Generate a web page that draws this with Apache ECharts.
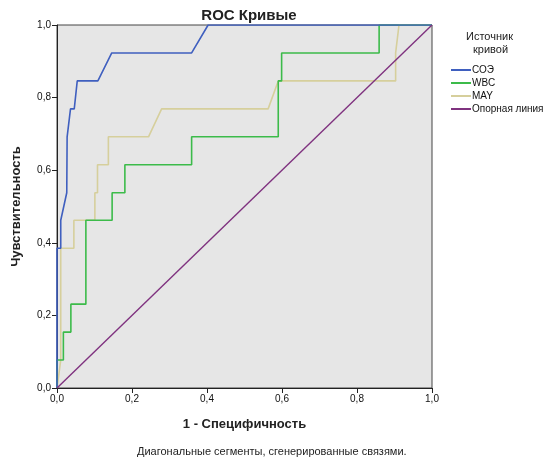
<!DOCTYPE html>
<html lang="ru">
<head>
    <meta charset="UTF-8">
    <title>ROC Кривые</title>
    <style type="text/css">
        body{
            margin: 0px;
            padding: 0px;
            background: #fff;
        }
        #chart{
            width: 547px;
            height: 468px;
        }
    </style>
</head>
<body>
<div id="chart"></div>
<script src="https://cdn.jsdelivr.net/npm/echarts@6/dist/echarts.min.js"></script>
<script type="text/javascript">
    // данные кривых (1 - специфичность / чувствительность)
    var soeX = [0, 0, 0.01, 0.01, 0.015, 0.026, 0.027, 0.036, 0.046, 0.054, 0.109, 0.146, 0.359, 0.403, 1];
    var soeY = [0, 0.385, 0.385, 0.462, 0.462, 0.538, 0.692, 0.769, 0.769, 0.846, 0.846, 0.923, 0.923, 1, 1];

    var wbcX = [0, 0, 0.017, 0.017, 0.037, 0.037, 0.077, 0.077, 0.147, 0.147, 0.181, 0.181, 0.359, 0.359, 0.59, 0.59, 0.599, 0.599, 0.859, 0.859, 1];
    var wbcY = [0, 0.077, 0.077, 0.154, 0.154, 0.231, 0.231, 0.462, 0.462, 0.538, 0.538, 0.615, 0.615, 0.692, 0.692, 0.846, 0.846, 0.923, 0.923, 1, 1];

    var mayX = [0, 0.01, 0.01, 0.045, 0.045, 0.101, 0.101, 0.108, 0.108, 0.137, 0.137, 0.244, 0.279, 0.563, 0.59, 0.903, 0.903, 0.912, 1];
    var mayY = [0, 0.077, 0.385, 0.385, 0.462, 0.462, 0.538, 0.538, 0.615, 0.615, 0.692, 0.692, 0.769, 0.769, 0.846, 0.846, 0.923, 1, 1];

    var refX = [0, 1];
    var refY = [0, 1];

    var ticks = [0, 0.2, 0.4, 0.6, 0.8, 1.0];

    function pairs(xs, ys) {
        var out = [];
        for (var i = 0; i < xs.length; i++) {
            out.push([xs[i], ys[i]]);
        }
        return out;
    }
    function fmt(v) {
        return v.toFixed(1).replace('.', ',');
    }

    var font = 'Liberation Sans';
    var myChart = echarts.init(document.getElementById('chart'));
    myChart.setOption({
        animation: false,
        textStyle: {fontFamily: font},
        title: {
            text: 'ROC Кривые',
            left: 244,
            top: 3,
            textAlign: 'center',
            textStyle: {fontSize: 15, fontWeight: 'bold', color: '#222', fontFamily: font}
        },
        graphic: [
            {type: 'text', left: 466, top: 31, style: {text: 'Источник', font: '11px "Liberation Sans"', fill: '#222'}},
            {type: 'text', left: 473, top: 44, style: {text: 'кривой', font: '11px "Liberation Sans"', fill: '#222'}},
            {type: 'text', left: 137, top: 446,
             style: {text: 'Диагональные сегменты, сгенерированные связями.', font: '11px "Liberation Sans"', fill: '#222'}}
        ],
        legend: {
            orient: 'vertical',
            left: 446,
            top: 60,
            itemWidth: 20,
            itemHeight: 2,
            itemGap: 3,
            icon: 'rect',
            textStyle: {fontSize: 10, color: '#111', fontFamily: font, padding: [0, 0, 0, -4]},
            data: ['СОЭ', 'WBC', 'MAY', 'Опорная линия']
        },
        grid: {
            left: 57,
            right: 115,
            top: 25,
            bottom: 80,
            show: true,
            backgroundColor: '#e6e6e6',
            borderColor: '#444',
            borderWidth: 1
        },
        xAxis: {
            type: 'value',
            min: 0,
            max: 1,
            interval: 0.2,
            name: '1 - Специфичность',
            nameLocation: 'middle',
            nameGap: 30,
            nameTextStyle: {fontSize: 13, fontWeight: 'bold', color: '#222', fontFamily: font},
            axisLine: {show: true, lineStyle: {color: '#222', width: 1}},
            axisTick: {show: true, length: 5, lineStyle: {color: '#222'}},
            axisLabel: {formatter: fmt, fontSize: 10, color: '#111', margin: 6},
            splitLine: {show: false}
        },
        yAxis: {
            type: 'value',
            min: 0,
            max: 1,
            interval: 0.2,
            name: 'Чувствительность',
            nameLocation: 'middle',
            nameGap: 34,
            nameTextStyle: {fontSize: 13, fontWeight: 'bold', color: '#222', fontFamily: font},
            axisLine: {show: true, lineStyle: {color: '#222', width: 1}},
            axisTick: {show: true, length: 5, lineStyle: {color: '#222'}},
            axisLabel: {formatter: fmt, fontSize: 10, color: '#111', margin: 6},
            splitLine: {show: false}
        },
        series: [
            {name: 'СОЭ', type: 'line', symbol: 'none', data: pairs(soeX, soeY),
             lineStyle: {color: '#3f5fbf', width: 1.6}, itemStyle: {color: '#3f5fbf'}, z: 4},
            {name: 'WBC', type: 'line', symbol: 'none', data: pairs(wbcX, wbcY),
             lineStyle: {color: '#3cbb4a', width: 1.6}, itemStyle: {color: '#3cbb4a'}, z: 3},
            {name: 'MAY', type: 'line', symbol: 'none', data: pairs(mayX, mayY),
             lineStyle: {color: '#d6cf9c', width: 1.6}, itemStyle: {color: '#d6cf9c'}, z: 2},
            {name: 'Опорная линия', type: 'line', symbol: 'none', data: pairs(refX, refY),
             lineStyle: {color: '#7f327f', width: 1.4}, itemStyle: {color: '#7f327f'}, z: 5}
        ]
    });
</script>
</body>
</html>
